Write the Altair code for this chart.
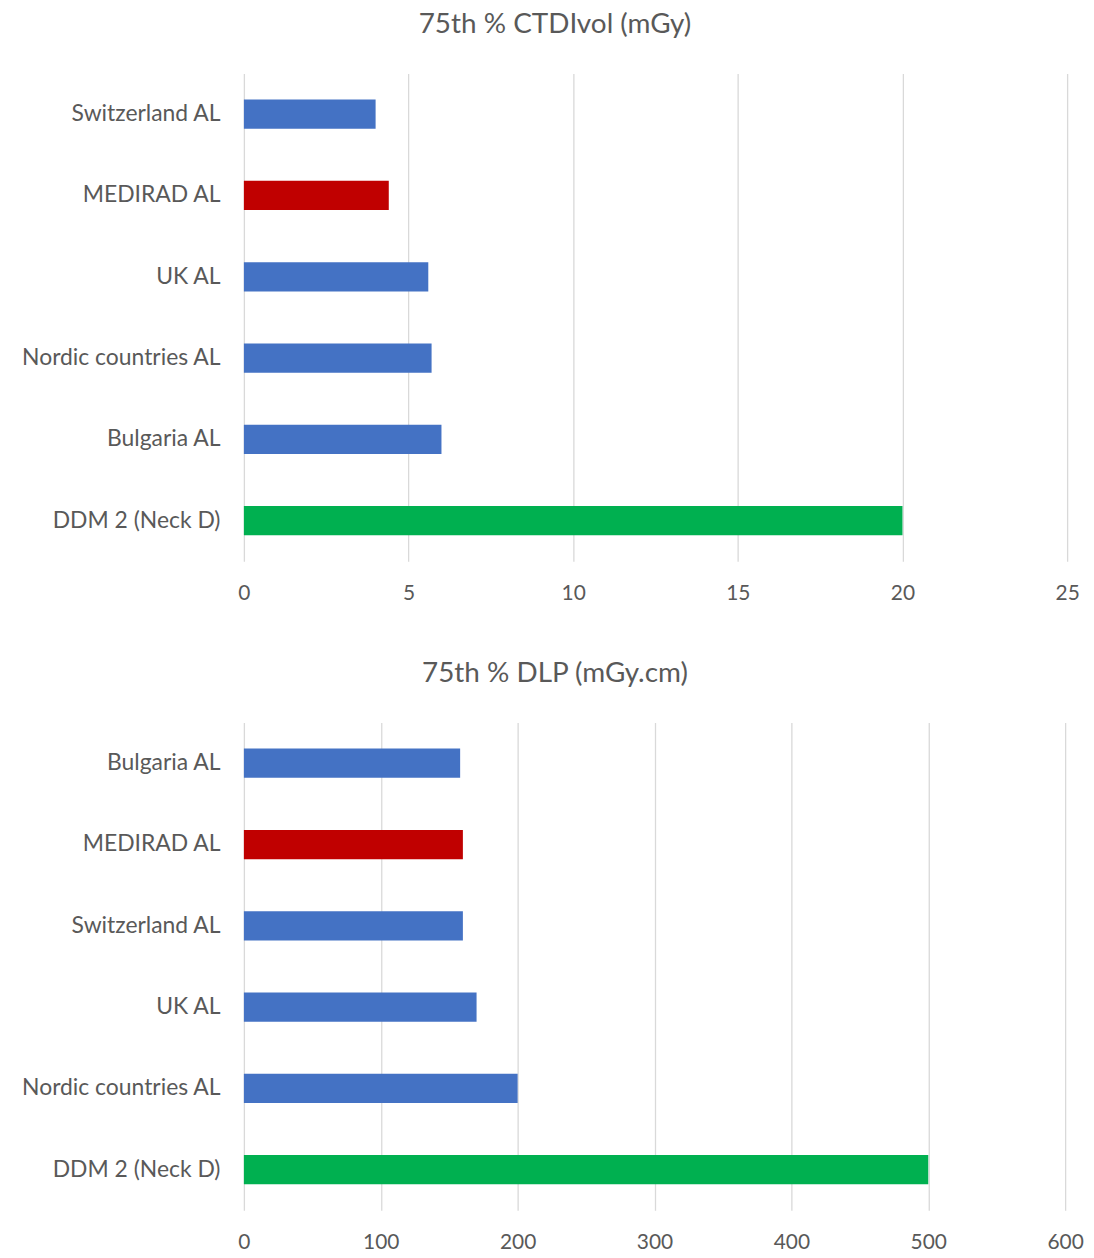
import altair as alt
import pandas as pd

ctdi_labels = ["Switzerland AL", "MEDIRAD AL", "UK AL", "Nordic countries AL", "Bulgaria AL", "DDM 2 (Neck D)"]
ctdi_values = [4.0, 4.4, 5.6, 5.7, 6.0, 20.0]
ctdi_colors = ["#4472C4", "#C00000", "#4472C4", "#4472C4", "#4472C4", "#00B050"]

dlp_labels = ["Bulgaria AL", "MEDIRAD AL", "Switzerland AL", "UK AL", "Nordic countries AL", "DDM 2 (Neck D)"]
dlp_values = [158, 160, 160, 170, 200, 500]
dlp_colors = ["#4472C4", "#C00000", "#4472C4", "#4472C4", "#4472C4", "#00B050"]

FONT = "Lato"
GREY = "#595959"


def panel(labels, values, colors, title, xmax, step, width, dx):
    df = pd.DataFrame({"label": labels, "value": values, "color": colors})
    return alt.Chart(df, title=alt.Title(
        title, fontSize=28, font=FONT, color=GREY, fontWeight="normal",
        anchor="middle", dx=dx, offset=35)).mark_bar().encode(
        y=alt.Y("label:N", sort=labels, title=None,
                scale=alt.Scale(paddingInner=0.64, paddingOuter=0.32),
                axis=alt.Axis(ticks=False, domain=False, labelFont=FONT, labelFontSize=23,
                              labelColor=GREY, labelPadding=24, grid=False, labelLimit=400,
                              minExtent=233, maxExtent=233)),
        x=alt.X("value:Q", title=None,
                scale=alt.Scale(domain=[0, xmax], nice=False),
                axis=alt.Axis(values=list(range(0, xmax + 1, step)), ticks=False, domain=False,
                              labelFont=FONT, labelFontSize=21, labelColor=GREY, labelFlush=False,
                              labelPadding=21, gridColor="#D9D9D9", gridWidth=1.3)),
        color=alt.Color("color:N", scale=None),
    ).properties(width=width, height=490)


top = panel(ctdi_labels, ctdi_values, ctdi_colors, "75th % CTDIvol (mGy)", 25, 5, 827, -101)
bottom = panel(dlp_labels, dlp_values, dlp_colors, "75th % DLP (mGy.cm)", 600, 100, 825, -100)

chart = alt.vconcat(top, bottom, spacing=57).properties(
    padding={"left": 12, "top": 8, "right": 10, "bottom": 0},
    background="white",
).configure_view(strokeWidth=0, stroke=None)

chart.save("out.html", embed_options={"renderer": "svg", "actions": False})
